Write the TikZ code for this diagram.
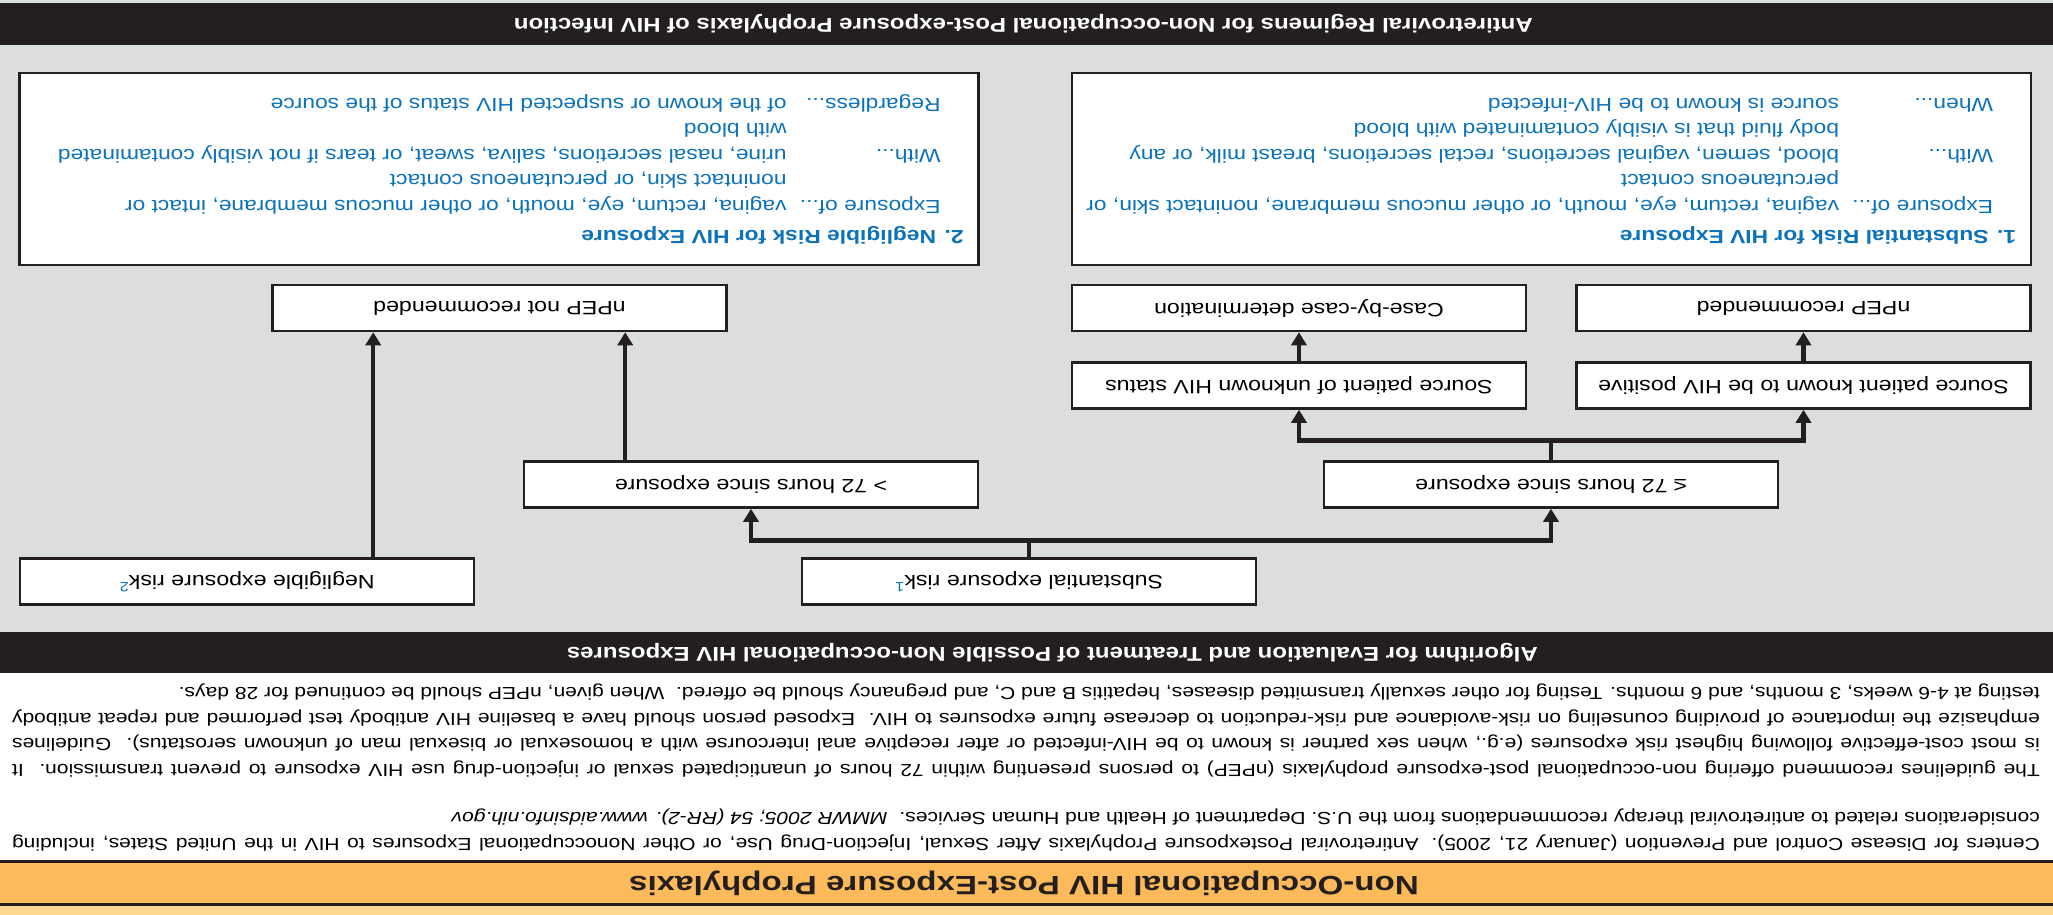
\documentclass[tikz,border=0pt]{standalone}
\usepackage{fontspec}
\setmainfont{Liberation Sans}[FakeStretch=1.2]
\newfontfamily\bannerfont{Liberation Sans}[FakeStretch=1.25]
\usepackage{xcolor}
\usetikzlibrary{arrows.meta, positioning, calc}

\definecolor{panelgray}{HTML}{DCDDDF}
\definecolor{bardark}{HTML}{231F20}
\definecolor{noteblue}{HTML}{0C72BA}
\definecolor{bannerorange}{HTML}{FDBA5B}
\definecolor{paleorange}{HTML}{FFD98F}

\tikzset{
    stepbox/.style={rectangle, draw=bardark, line width=2.5pt, fill=white, minimum width=454pt, minimum height=46pt, inner sep=0pt, font=\fontsize{19.3}{22}\selectfont},
    riskbox/.style={rectangle, draw=bardark, line width=2.5pt, fill=white, minimum width=959pt, minimum height=192pt, inner sep=0pt},
    risktext/.style={anchor=north west, inner sep=0pt, text=noteblue, font=\fontsize{19}{25.5}\selectfont},
    bodytext/.style={anchor=north west, inner sep=0pt, text width=2028pt, align=justify, font=\fontsize{17.5}{25.5}\selectfont},
    barhead/.style={anchor=west, inner sep=0pt, text=white, font=\bfseries\fontsize{20}{24}\selectfont},
    arrow/.style={line width=4.5pt, draw=bardark, -{Triangle[length=13pt,width=15pt]}},
    link/.style={line width=4.5pt, draw=bardark}
}

\begin{document}
\begin{tikzpicture}[x=1pt, y=1pt, rotate=180, transform shape]
    \useasboundingbox (0,0) rectangle (2053,915);

    % Bands
    \fill[panelgray] (0,0) rectangle (2053,632);
    \fill[white] (0,673) rectangle (2053,860);
    \fill[bardark] (0,3) rectangle (2053,45);
    \fill[bardark] (0,632) rectangle (2053,673);
    \fill[bardark] (0,860) rectangle (2053,906);
    \fill[bannerorange] (0,863) rectangle (2053,903);
    \fill[paleorange] (0,906) rectangle (2053,915);

    % Headings
    \node (banner) [inner sep=0pt, text=bardark, font=\bannerfont\bfseries\fontsize{26.5}{30}\selectfont] at (1029,883) {Non-Occupational HIV Post-Exposure Prophylaxis};
    \node (algohead) [barhead] at (515,652.5) {Algorithm for Evaluation and Treatment of Possible Non-occupational HIV Exposures};
    \node (arvhead) [barhead] at (520,24) {Antiretroviral Regimens for Non-occupational Post-exposure Prophylaxis of HIV Infection};

    % Text
    \node (refnote) [bodytext] at (13,851) {\sloppy Centers for Disease Control and Prevention (January 21, 2005). Antiretroviral Postexposure Prophylaxis After Sexual, Injection-Drug Use, or Other Nonoccupational Exposures to HIV in the United States, including\linebreak considerations related to antiretroviral therapy recommendations from the U.S. Department of Health and Human Services.\ \ \textit{MMWR 2005; 54 (RR-2). www.aidsinfo.nih.gov}};
    \node (summary) [bodytext] at (13,777) {\sloppy The guidelines recommend offering non-occupational post-exposure prophylaxis (nPEP) to persons presenting within 72 hours of unanticipated sexual or injection-drug use HIV exposure to prevent transmission.\ \ It\linebreak is most cost-effective following highest risk exposures (e.g., when sex partner is known to be HIV-infected or after receptive anal intercourse with a homosexual or bisexual man of unknown serostatus).\ \ Guidelines\linebreak emphasize the importance of providing counseling on risk-avoidance and risk-reduction to decrease future exposures to HIV.\ \ Exposed person should have a baseline HIV antibody test performed and repeat antibody\linebreak testing at 4-6 weeks, 3 months, and 6 months. Testing for other sexually transmitted diseases, hepatitis B and C, and pregnancy should be offered.\ \ When given, nPEP should be continued for 28 days.};

    % Algorithm
    \node (neg) [stepbox] at (1806,581.5) {Negligible exposure risk\textsuperscript{\color{noteblue}2}};
    \node (subst) [stepbox] at (1024,581.5) {Substantial exposure risk\textsuperscript{\color{noteblue}1}};
    \node (gt72) [stepbox] at (1302,484.5) {> 72 hours since exposure};
    \node (le72) [stepbox] at (502,484.5) {≤ 72 hours since exposure};
    \node (srcpos) [stepbox] at (249.5,385.5) {Source patient known to be HIV positive};
    \node (srcunk) [stepbox] at (754,385.5) {Source patient of unknown HIV status};
    \node (rec) [stepbox] at (249.5,308) {nPEP recommended};
    \node (cbc) [stepbox] at (754,308) {Case-by-case determination};
    \node (notrec) [stepbox] at (1553.5,308) {nPEP not recommended};

    \coordinate (split1) at ($(subst.south)+(0,-17)$);
    \draw[link] (subst.south) -- (split1);
    \draw[arrow] (split1) -| (le72.north);
    \draw[arrow] (split1) -| (gt72.north);

    \coordinate (split2) at ($(le72.south)+(0,-20)$);
    \draw[link] (le72.south) -- (split2);
    \draw[arrow] (split2) -| (srcpos.north);
    \draw[arrow] (split2) -| (srcunk.north);
    \draw[arrow] (srcpos) -- (rec);
    \draw[arrow] (srcunk) -- (cbc);

    \coordinate (late) at ($(gt72.south east)!0.5!(notrec.north west)$);
    \draw[arrow] (gt72.south -| late) -- (notrec.north -| late);
    \coordinate (negl) at ($(neg.south west)!0.5!(notrec.north east)$);
    \draw[arrow] (neg.south -| negl) -- (notrec.north -| negl);

    % Risk definitions
    \node (sub) [riskbox] at (501.5,169) {};
    \node (subtxt) [risktext] at ($(sub.north west)+(16,-18)$) {%
        \begin{tabular}{@{\hspace*{23pt}}p{154pt}@{}l@{}}
        \multicolumn{2}{@{}l@{}}{\bfseries 1. Substantial Risk for HIV Exposure}\\[4.5pt]
        Exposure of... & vagina, rectum, eye, mouth, or other mucous membrane, nonintact skin, or\\
        & percutaneous contact\\
        With... & blood, semen, vaginal secretions, rectal secretions, breast milk, or any\\
        & body fluid that is visibly contaminated with blood\\
        When... & source is known to be HIV-infected
        \end{tabular}};
    \node (neg2) [riskbox] at (1554,169) {};
    \node (negtxt) [risktext] at ($(neg2.north west)+(16,-18)$) {%
        \begin{tabular}{@{\hspace*{23pt}}p{154pt}@{}l@{}}
        \multicolumn{2}{@{}l@{}}{\bfseries 2. Negligible Risk for HIV Exposure}\\[4.5pt]
        Exposure of... & vagina, rectum, eye, mouth, or other mucous membrane, intact or\\
        & nonintact skin, or percutaneous contact\\
        With... & urine, nasal secretions, saliva, sweat, or tears if not visibly contaminated\\
        & with blood\\
        Regardless... & of the known or suspected HIV status of the source
        \end{tabular}};
\end{tikzpicture}
\end{document}
